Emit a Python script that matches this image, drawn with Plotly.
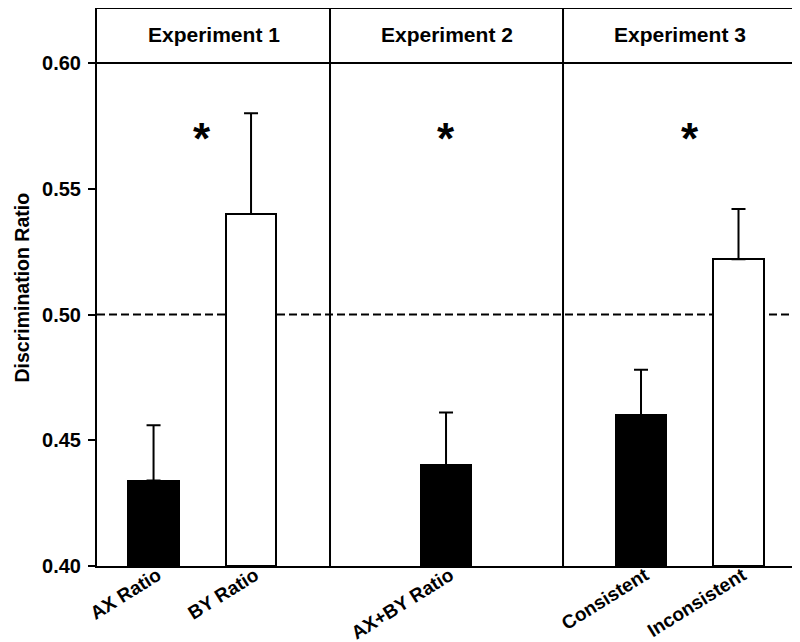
import plotly.graph_objects as go

# conditions, in plotting order
conditions = ["AX Ratio", "BY Ratio", "AX+BY Ratio", "Consistent", "Inconsistent"]
condition_experiment = ["Experiment 1", "Experiment 1", "Experiment 2", "Experiment 3", "Experiment 3"]
mean_ratio = [0.434, 0.540, 0.440, 0.460, 0.522]
sem_ratio = [0.022, 0.040, 0.021, 0.018, 0.020]
bar_fill = ["black", "white", "black", "black", "white"]

experiments = ["Experiment 1", "Experiment 2", "Experiment 3"]
significant = [True, True, True]
chance_level = 0.50

y_ticks = [0.40, 0.45, 0.50, 0.55, 0.60]
y_top = 0.6215  # header strip sits above 0.60

FONT = "Liberation Sans, Arial, Helvetica, sans-serif"

# category order with blank spacer slots between experiments
order = []
for i, exp in enumerate(experiments):
    order += [c for c, e in zip(conditions, condition_experiment) if e == exp]
    if i < len(experiments) - 1:
        order.append(" " * (i + 1))

x_range = [-0.58, 6.6]
dividers = [1.81, 4.2]
edges = [x_range[0]] + dividers + [x_range[1]]

fig = go.Figure()
fig.add_trace(go.Bar(
    x=conditions,
    y=[m - 0.40 for m in mean_ratio],
    base=0.40,
    width=0.52,
    marker=dict(color=bar_fill, line=dict(color="black", width=2)),
    error_y=dict(type="data", array=sem_ratio, arrayminus=[0] * len(sem_ratio),
                 symmetric=False, color="black", thickness=2, width=7),
    hovertext=[f"{c}: {m:.3f}" for c, m in zip(conditions, mean_ratio)],
    showlegend=False,
))

shapes = []
# chance level
shapes.append(dict(type="line", xref="paper", x0=0, x1=1, yref="y", y0=chance_level, y1=chance_level,
                   line=dict(color="black", width=2, dash="8px,4px"), layer="below"))
# header bottom line
shapes.append(dict(type="line", xref="paper", x0=0, x1=1, yref="y", y0=0.60, y1=0.60,
                   line=dict(color="black", width=2)))
for d in dividers:
    shapes.append(dict(type="line", xref="x", x0=d, x1=d, yref="paper", y0=0, y1=1,
                       line=dict(color="black", width=2)))

annotations = []
for i, exp in enumerate(experiments):
    cx = (edges[i] + edges[i + 1]) / 2
    annotations.append(dict(x=cx, y=0.6113, xref="x", yref="y", text=exp, showarrow=False,
                            font=dict(family=FONT, size=21, color="black", weight="bold")))
    if significant[i]:
        idx = [order.index(c) for c, e in zip(conditions, condition_experiment) if e == exp]
        annotations.append(dict(x=sum(idx) / len(idx), y=0.570, xref="x", yref="y", text="*",
                                showarrow=False,
                                font=dict(family=FONT, size=44, color="black", weight="bold")))

annotations.append(dict(x=-0.1271, y=0.5, xref="paper", yref="paper", text="Discrimination Ratio",
                        textangle=-90, showarrow=False, xanchor="left", yanchor="middle",
                        font=dict(family=FONT, size=19.5, color="black", weight="bold")))

# the page body adds an 8px margin, so the figure is 8px smaller each way
fig.update_layout(
    width=792, height=634,
    margin=dict(l=89, r=3, t=1, b=76),
    plot_bgcolor="white", paper_bgcolor="white",
    shapes=shapes, annotations=annotations,
    bargap=0,
)
fig.update_xaxes(
    type="category", categoryorder="array", categoryarray=order, range=x_range,
    showline=True, linecolor="black", linewidth=2, mirror=True, automargin=False,
    ticks="", showgrid=False, tickangle=-32, ticklabelstandoff=-11, ticklabelshift=4,
    tickfont=dict(family=FONT, size=19, color="black", weight="bold"),
)
fig.update_yaxes(
    range=[0.40, y_top], tickvals=y_ticks, ticktext=[f"{v:.2f}" for v in y_ticks],
    showline=True, linecolor="black", linewidth=2, mirror=True, automargin=False,
    ticks="outside", ticklen=7, tickwidth=2, tickcolor="black", showgrid=False, zeroline=False,
    ticklabelstandoff=3,
    tickfont=dict(family=FONT, size=20, color="black", weight="bold"),
)

fig.write_html("out.html")
